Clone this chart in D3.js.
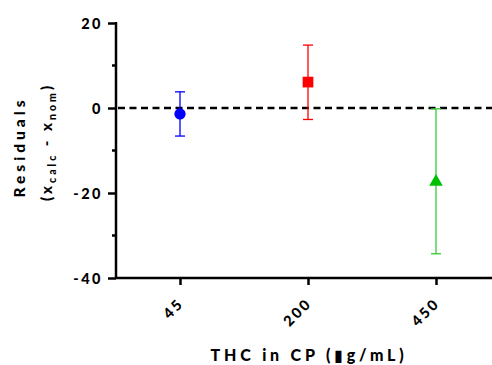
<!DOCTYPE html>
<html>
<head>
<meta charset="utf-8">
<script src="https://cdn.jsdelivr.net/npm/d3@7"></script>
<style>
  html, body { margin: 0; padding: 0; background: #fff; }
  svg { display: block; }
  text { font-family: Lato, "DejaVu Sans", sans-serif; font-weight: 900; fill: #000; }
</style>
</head>
<body>
<svg id="chart" width="492" height="365"></svg>
<script>
// THC concentrations in CP and the residuals of back-calculated values
const categories = ["45", "200", "450"];
const residualMean = [-1.4, 6.1, -17.4];
const residualLow  = [-6.6, -2.7, -34.3];
const residualHigh = [3.8, 14.8, -0.2];
const seriesColors = ["#0000ff", "#ff0000", "#00c000"];
const barColors    = ["#0000ff", "#ff0000", "#33cc33"];
const symbols      = ["circle", "square", "triangle"];
const yTicks = [20, 0, -20, -40];
const yMinorTicks = [10, -10, -30];

const svg = d3.select("#chart");
const plotLeft = 116, plotRight = 492, plotTop = 23, plotBottom = 278;

const y = d3.scaleLinear().domain([-40, 20]).range([plotBottom, plotTop]);
const x = d3.scalePoint().domain(categories).range([180, 436]);

// y axis (plain hyphen for negative numbers)
const yAxis = svg.append("g").attr("transform", `translate(${plotLeft},0)`)
  .call(d3.axisLeft(y).tickValues(yTicks).tickSize(8).tickPadding(5).tickFormat(d => String(d)));
yAxis.select(".domain").attr("stroke", "#000").attr("stroke-width", 2.5).attr("d", `M0,${plotTop - 1}V${plotBottom + 1}`);
yAxis.selectAll(".tick line").attr("stroke", "#000").attr("stroke-width", 2.5);
yAxis.selectAll(".tick text").attr("font-size", 14.5).attr("letter-spacing", 2.5)
  .style("font-family", "Lato, sans-serif").style("font-weight", 900).attr("dy", "0.35em");

// minor y ticks
svg.append("g").selectAll("line").data(yMinorTicks).join("line")
  .attr("x1", plotLeft - 4).attr("x2", plotLeft)
  .attr("y1", d => y(d)).attr("y2", d => y(d))
  .attr("stroke", "#000").attr("stroke-width", 2.5);

// x axis
const xAxis = svg.append("g").attr("transform", `translate(0,${plotBottom})`)
  .call(d3.axisBottom(x).tickSize(7).tickPadding(6));
xAxis.select(".domain").attr("stroke", "#000").attr("stroke-width", 2.5).attr("d", `M${plotLeft - 1},0H${plotRight}`);
xAxis.selectAll(".tick line").attr("stroke", "#000").attr("stroke-width", 2.5);
xAxis.selectAll(".tick text").attr("font-size", 14.5).attr("letter-spacing", 2.5)
  .style("font-family", "Lato, sans-serif").style("font-weight", 900)
  .attr("text-anchor", "end").attr("dy", "0")
  .attr("transform", "translate(-5,17) rotate(-45)");

// zero reference line
svg.append("line")
  .attr("x1", plotLeft + 2).attr("x2", plotRight)
  .attr("y1", y(0)).attr("y2", y(0))
  .attr("stroke", "#000").attr("stroke-width", 2.5).attr("stroke-dasharray", "7,4.5");

// error bars
const cap = 5;
const bars = svg.append("g").selectAll("g").data(categories).join("g")
  .attr("stroke", (d, i) => barColors[i]).attr("stroke-width", 1.3);
bars.append("line")
  .attr("x1", d => x(d)).attr("x2", d => x(d))
  .attr("y1", (d, i) => y(residualHigh[i])).attr("y2", (d, i) => y(residualLow[i]));
bars.append("line")
  .attr("x1", d => x(d) - cap).attr("x2", d => x(d) + cap)
  .attr("y1", (d, i) => y(residualHigh[i])).attr("y2", (d, i) => y(residualHigh[i]));
bars.append("line")
  .attr("x1", d => x(d) - cap).attr("x2", d => x(d) + cap)
  .attr("y1", (d, i) => y(residualLow[i])).attr("y2", (d, i) => y(residualLow[i]));

// point markers
const symbolTypes = { circle: d3.symbolCircle, square: d3.symbolSquare, triangle: d3.symbolTriangle };
const symbolSizes = { circle: 100, square: 115, triangle: 80 };
svg.append("g").selectAll("path").data(categories).join("path")
  .attr("transform", (d, i) => `translate(${x(d)},${y(residualMean[i])})`)
  .attr("d", (d, i) => d3.symbol().type(symbolTypes[symbols[i]]).size(symbolSizes[symbols[i]])())
  .attr("fill", (d, i) => seriesColors[i]);

// axis titles
const yTitle = svg.append("g").attr("transform", "translate(25,147) rotate(-90)");
yTitle.append("text").attr("text-anchor", "middle").attr("font-size", 15.5).attr("letter-spacing", 4)
  .text("Residuals");
const sub = yTitle.append("text").attr("text-anchor", "middle").attr("x", 5).attr("y", 27)
  .attr("font-size", 15).attr("letter-spacing", 3);
sub.append("tspan").text("(x");
sub.append("tspan").attr("font-size", 10.5).attr("dy", 4).text("calc");
sub.append("tspan").attr("dy", -4).text(" - x");
sub.append("tspan").attr("font-size", 10.5).attr("dy", 4).text("nom");
sub.append("tspan").attr("dy", -4).text(")");

svg.append("text").attr("x", 309).attr("y", 361).attr("text-anchor", "middle")
  .attr("font-size", 16).attr("letter-spacing", 3.8)
  .text("THC in CP (\u25AEg/mL)");
</script>
</body>
</html>
